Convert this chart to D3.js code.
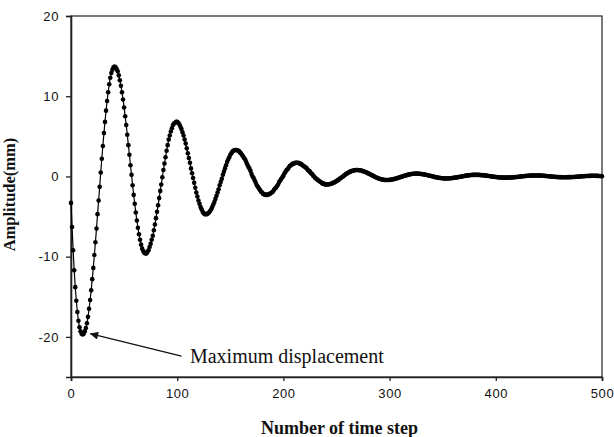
<!DOCTYPE html>
<html>
<head>
<meta charset="utf-8">
<script src="https://cdn.jsdelivr.net/npm/d3@7"></script>
<style>
  body { margin: 0; background: #fff; }
  svg { display: block; }
</style>
</head>
<body>
<div class="container"></div>
<script>
const width = 614;
const height = 437;

// amplitude (mm) at each time step 0..500
const amplitude = [
    -3.3, -6.3, -9.2, -11.7, -13.8, -15.5, -16.9, -18.0, -18.8, -19.3, -19.6, -19.7,
    -19.6, -19.3, -18.9, -18.3, -17.5, -16.5, -15.4, -14.2, -12.8, -11.4, -9.8, -8.2, -6.5, -4.7,
    -3.0, -1.3, 0.5, 2.2, 3.8, 5.4, 6.8, 8.2, 9.4, 10.5, 11.5, 12.3, 12.9, 13.3, 13.6, 13.7,
    13.6, 13.4, 13.1, 12.6, 12.0, 11.3, 10.5, 9.6, 8.6, 7.5, 6.4, 5.2, 3.9, 2.7, 1.4,
    0.2, -1.1, -2.3, -3.4, -4.5, -5.5, -6.4, -7.2, -7.9, -8.5, -9.0, -9.3, -9.5, -9.6,
    -9.6, -9.4, -9.2, -8.8, -8.4, -7.9, -7.4, -6.7, -6.0, -5.2, -4.4, -3.6, -2.7, -1.8, -1.0,
    -0.1, 0.8, 1.6, 2.4, 3.2, 3.9, 4.6, 5.1, 5.6, 6.0, 6.4, 6.6, 6.7, 6.8,
    6.8, 6.7, 6.5, 6.2, 5.9, 5.5, 5.1, 4.6, 4.1, 3.5, 2.9, 2.3, 1.7, 1.0,
    0.4, -0.2, -0.8, -1.4, -2.0, -2.5, -3.0, -3.4, -3.8, -4.1, -4.4, -4.6, -4.7, -4.7,
    -4.7, -4.6, -4.5, -4.3, -4.1, -3.8, -3.5, -3.2, -2.8, -2.4, -2.0, -1.6, -1.1, -0.7,
    -0.3, 0.2, 0.6, 1.0, 1.4, 1.8, 2.1, 2.4, 2.7, 2.9, 3.1, 3.2, 3.3, 3.3,
    3.3, 3.2, 3.2, 3.0, 2.9, 2.7, 2.5, 2.3, 2.1, 1.8, 1.5, 1.2, 1.0, 0.7, 0.3,
    0.0, -0.2, -0.5, -0.8, -1.1, -1.3, -1.5, -1.7, -1.9, -2.0, -2.2, -2.2, -2.3, -2.3,
    -2.3, -2.2, -2.2, -2.1, -2.0, -1.9, -1.7, -1.5, -1.4, -1.2, -1.0, -0.7, -0.5, -0.3,
    -0.1, 0.1, 0.4, 0.6, 0.8, 0.9, 1.1, 1.3, 1.4, 1.5, 1.6, 1.6, 1.7, 1.7,
    1.7, 1.7, 1.6, 1.6, 1.5, 1.4, 1.3, 1.2, 1.1, 1.0, 0.8, 0.7, 0.6, 0.4, 0.3,
    0.1, 0.0, -0.2, -0.3, -0.4, -0.5, -0.6, -0.7, -0.8, -0.9, -0.9, -1.0, -1.0, -1.0,
    -0.99, -0.98, -0.95, -0.91, -0.86, -0.80, -0.74, -0.66, -0.58, -0.49, -0.40, -0.30, -0.20, -0.10,
    0.00, 0.10, 0.20, 0.29, 0.38, 0.46, 0.54, 0.60, 0.66, 0.71, 0.75, 0.78, 0.79, 0.80,
    0.80, 0.78, 0.77, 0.74, 0.70, 0.66, 0.62, 0.56, 0.51, 0.45, 0.38, 0.31, 0.25, 0.18,
    0.10, 0.04, -0.03, -0.10, -0.16, -0.21, -0.27, -0.31, -0.35, -0.39, -0.42, -0.43, -0.45, -0.45,
    -0.45, -0.44, -0.43, -0.41, -0.39, -0.36, -0.33, -0.30, -0.26, -0.22, -0.18, -0.14, -0.09, -0.05,
    -0.01, 0.04, 0.08, 0.12, 0.16, 0.20, 0.23, 0.26, 0.29, 0.31, 0.33, 0.34, 0.35, 0.35,
    0.35, 0.34, 0.33, 0.32, 0.30, 0.28, 0.26, 0.24, 0.21, 0.18, 0.15, 0.12, 0.08, 0.05,
    0.02, -0.02, -0.05, -0.08, -0.11, -0.14, -0.16, -0.18, -0.20, -0.22, -0.23, -0.24, -0.25, -0.25,
    -0.25, -0.24, -0.24, -0.23, -0.22, -0.20, -0.18, -0.17, -0.14, -0.12, -0.10, -0.08, -0.05, -0.03,
    0.00, 0.03, 0.05, 0.07, 0.10, 0.12, 0.13, 0.15, 0.17, 0.18, 0.19, 0.19, 0.20, 0.20,
    0.20, 0.20, 0.19, 0.18, 0.17, 0.16, 0.15, 0.13, 0.12, 0.10, 0.08, 0.06, 0.05, 0.03,
    0.00, -0.01, -0.03, -0.05, -0.07, -0.08, -0.10, -0.11, -0.12, -0.13, -0.14, -0.15, -0.15, -0.15,
    -0.15, -0.15, -0.14, -0.14, -0.13, -0.12, -0.11, -0.10, -0.09, -0.07, -0.06, -0.05, -0.03, -0.02,
    0.00, 0.02, 0.03, 0.04, 0.06, 0.07, 0.08, 0.09, 0.10, 0.11, 0.11, 0.12, 0.12, 0.12,
    0.12, 0.12, 0.11, 0.11, 0.10, 0.10, 0.09, 0.08, 0.07, 0.06, 0.05, 0.03, 0.02, 0.01,
    0.00, -0.01, -0.03, -0.04, -0.05, -0.06, -0.07, -0.08, -0.09, -0.09, -0.10, -0.10, -0.10, -0.10,
    -0.10, -0.10, -0.09, -0.09, -0.09, -0.08, -0.07, -0.07, -0.06, -0.05, -0.04, -0.03, -0.02, -0.01,
    0.00, 0.01, 0.02, 0.03, 0.04, 0.05, 0.05, 0.06, 0.07, 0.07, 0.08, 0.08, 0.08, 0.08,
    0.08, 0.07, 0.07, 0.06, 0.05, 0.04, 0.03
];

const xTicks = [0, 100, 200, 300, 400, 500];
const yTicks = [-20, -10, 0, 10, 20];
const xDomain = [0, 500];
const yDomain = [-25, 20];

const xTitle = 'Number of time step';
const yTitle = 'Amplitude(mm)';

// annotation: label, arrow tail and tip in data units
const noteText = 'Maximum displacement';
const noteTail = [104, -22.4];
const noteTip = [18, -19.6];
const noteAt = [112, -23.3];

const plot = { left: 71, right: 602, top: 16, bottom: 377 };

const x = d3.scaleLinear().domain(xDomain).range([plot.left, plot.right]);
const y = d3.scaleLinear().domain(yDomain).range([plot.bottom, plot.top]);

const svg = d3.select('.container')
    .append('svg')
    .attr('width', width)
    .attr('height', height);

svg.append('defs').append('marker')
    .attr('id', 'head')
    .attr('viewBox', '0 0 10 10')
    .attr('refX', 10)
    .attr('refY', 5)
    .attr('markerUnits', 'userSpaceOnUse')
    .attr('markerWidth', 11)
    .attr('markerHeight', 8)
    .attr('orient', 'auto')
    .append('path')
    .attr('d', 'M0,0L10,5L0,10z')
    .attr('fill', '#111');

// frame
svg.append('rect')
    .attr('x', plot.left)
    .attr('y', plot.top)
    .attr('width', plot.right - plot.left)
    .attr('height', plot.bottom - plot.top)
    .attr('fill', 'none')
    .attr('stroke', '#222')
    .attr('stroke-width', 1.2);

const xAxis = svg.append('g')
    .attr('transform', `translate(0,${plot.bottom})`)
    .call(d3.axisBottom(x).tickValues(xTicks).tickSize(4).tickPadding(8).tickFormat(d3.format('d')));

const yAxis = svg.append('g')
    .attr('transform', `translate(${plot.left},0)`)
    .call(d3.axisLeft(y).tickValues(yTicks).tickSize(5).tickPadding(7).tickFormat(d => String(d)));

[xAxis, yAxis].forEach(g => {
    g.select('.domain').attr('stroke', '#222').attr('stroke-width', 1.6);
    g.selectAll('.tick line').attr('stroke', '#222').attr('stroke-width', 1.3);
    g.selectAll('.tick text')
        .attr('fill', '#111')
        .style('font-family', '"Liberation Sans", Arial, sans-serif')
        .style('font-size', '13px')
        .style('letter-spacing', '0.6px');
});

const points = amplitude.map((a, i) => ({ t: i, a }));

const line = d3.line()
    .x(d => x(d.t))
    .y(d => y(d.a));

svg.append('path')
    .datum(points)
    .attr('fill', 'none')
    .attr('stroke', '#000')
    .attr('stroke-width', 1.2)
    .attr('d', line);

svg.append('g')
    .selectAll('circle')
    .data(points)
    .enter()
    .append('circle')
    .attr('cx', d => x(d.t))
    .attr('cy', d => y(d.a))
    .attr('r', 2.3)
    .attr('fill', '#000');

// annotation
svg.append('line')
    .attr('x1', x(noteTail[0]))
    .attr('y1', y(noteTail[1]))
    .attr('x2', x(noteTip[0]))
    .attr('y2', y(noteTip[1]))
    .attr('stroke', '#111')
    .attr('stroke-width', 1.2)
    .attr('marker-end', 'url(#head)');

svg.append('text')
    .attr('x', x(noteAt[0]))
    .attr('y', y(noteAt[1]))
    .attr('fill', '#111')
    .style('font-family', '"Liberation Serif", "Times New Roman", serif')
    .style('font-size', '20px')
    .text(noteText);

// axis titles
svg.append('text')
    .attr('x', (plot.left + plot.right) / 2 + 3)
    .attr('y', 434)
    .attr('text-anchor', 'middle')
    .attr('fill', '#111')
    .style('font-family', '"Liberation Serif", "Times New Roman", serif')
    .style('font-size', '18px')
    .style('font-weight', 'bold')
    .text(xTitle);

svg.append('text')
    .attr('transform', `translate(15,${(plot.top + plot.bottom) / 2 - 2}) rotate(-90)`)
    .attr('text-anchor', 'middle')
    .attr('fill', '#111')
    .style('font-family', '"Liberation Serif", "Times New Roman", serif')
    .style('font-size', '16.5px')
    .style('font-weight', 'bold')
    .text(yTitle);
</script>
</body>
</html>
